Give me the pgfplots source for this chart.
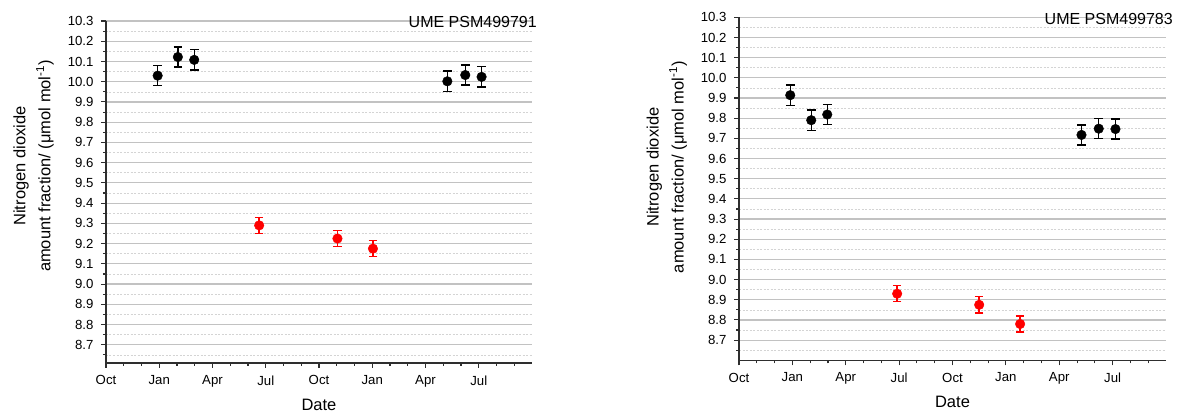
\documentclass[border=0pt]{standalone}
\usepackage{fontspec}
\setmainfont{Liberation Sans}
\usepackage{pgfplots}
\usepackage{pgfplotstable}
\pgfplotsset{compat=1.18}
\definecolor{AxisGray}{HTML}{2E2E2E}
\definecolor{GridMajor}{HTML}{C2C2C2}
\definecolor{GridMinor}{HTML}{D4D4D4}

% x = months counted from the first October
\pgfplotstableread{
x y e
2.91 10.03 0.05
4.05 10.122 0.05
4.97 10.108 0.05
19.23 10.002 0.05
20.24 10.033 0.05
21.16 10.024 0.05
}\leftblack
\pgfplotstableread{
x y e
8.63 9.29 0.04
13.04 9.225 0.04
15.04 9.175 0.04
}\leftred
\pgfplotstableread{
x y e
2.88 9.914 0.05
4.06 9.79 0.05
4.96 9.818 0.05
19.25 9.717 0.05
20.22 9.748 0.05
21.16 9.746 0.05
}\rightblack
\pgfplotstableread{
x y e
8.89 8.93 0.04
13.50 8.875 0.04
15.80 8.78 0.04
}\rightred

\pgfplotsset{
  nitro/.style={
    scale only axis,
    xmin=0, xmax=24,
    xtick={0,3,6,9,12,15,18,21},
    xticklabels={Oct,Jan,Apr,Jul,Oct,Jan,Apr,Jul},
    minor xtick={1,2,4,5,7,8,10,11,13,14,16,17,19,20,22,23},
    ymax=10.3,
    ytick={8.7,8.8,8.9,9.0,9.1,9.2,9.3,9.4,9.5,9.6,9.7,9.8,9.9,10.0,10.1,10.2,10.3},
    minor ytick={8.65,8.75,8.85,8.95,9.05,9.15,9.25,9.35,9.45,9.55,9.65,9.75,9.85,9.95,10.05,10.15,10.25},
    yticklabel style={xshift=-4pt, /pgf/number format/.cd,fixed,fixed zerofill,precision=1,assume math mode=true},
    xticklabel style={yshift=-4pt},
    tick label style={font=\fontsize{13.2}{15}\selectfont},
    axis x line*=bottom, axis y line*=left,
    axis line style={-, line width=1.3pt, AxisGray},
    tick align=outside,
    major tick length=5pt, minor tick length=3pt,
    every tick/.style={line width=1.1pt, AxisGray},
    ymajorgrids, yminorgrids,
    major grid style={solid, line width=1.2pt, GridMajor},
    minor grid style={line width=0.6pt, GridMinor, dash pattern=on 2pt off 1.5pt},
    xlabel={Date},
    xlabel style={yshift=-5pt},
    label style={font=\fontsize{16.5}{25}\selectfont},
    ylabel={Nitrogen dioxide\\amount fraction/ (μmol mol\textsuperscript{-1})},
    ylabel style={align=center},
  },
  pts/.style={only marks, mark=*, mark size=4.8pt, color=#1,
    error bars/.cd, y dir=both, y explicit,
    error bar style={line width=1.4pt},
    error mark options={rotate=90, line width=1.4pt, mark size=4.3pt}},
}

\begin{document}
\begin{tikzpicture}
\useasboundingbox (0pt,0pt) rectangle (1178pt,412pt);

\begin{axis}[nitro, name=L, at={(106pt,49pt)}, anchor=south west,
  width=426pt, height=342pt, ymin=8.61,
  ylabel style={at={(ticklabel cs:0.576,7pt)}}]
\addplot[pts=black] table[x=x, y=y, y error=e] {\leftblack};
\addplot[pts=red] table[x=x, y=y, y error=e] {\leftred};
\end{axis}
\node[anchor=east, font=\fontsize{16}{18}\selectfont, inner sep=0pt]
  at ([xshift=5pt, yshift=-0.5pt]L.north east) {UME PSM499791};

\begin{axis}[nitro, name=R, at={(739pt,51.7pt)}, anchor=south west,
  width=427pt, height=343pt, ymin=8.6,
  ylabel style={at={(ticklabel cs:0.563,7pt)}}]
\addplot[pts=black] table[x=x, y=y, y error=e] {\rightblack};
\addplot[pts=red] table[x=x, y=y, y error=e] {\rightred};
\end{axis}
\node[anchor=east, font=\fontsize{16}{18}\selectfont, inner sep=0pt]
  at ([xshift=7pt, yshift=-1.7pt]R.north east) {UME PSM499783};
\end{tikzpicture}
\end{document}
